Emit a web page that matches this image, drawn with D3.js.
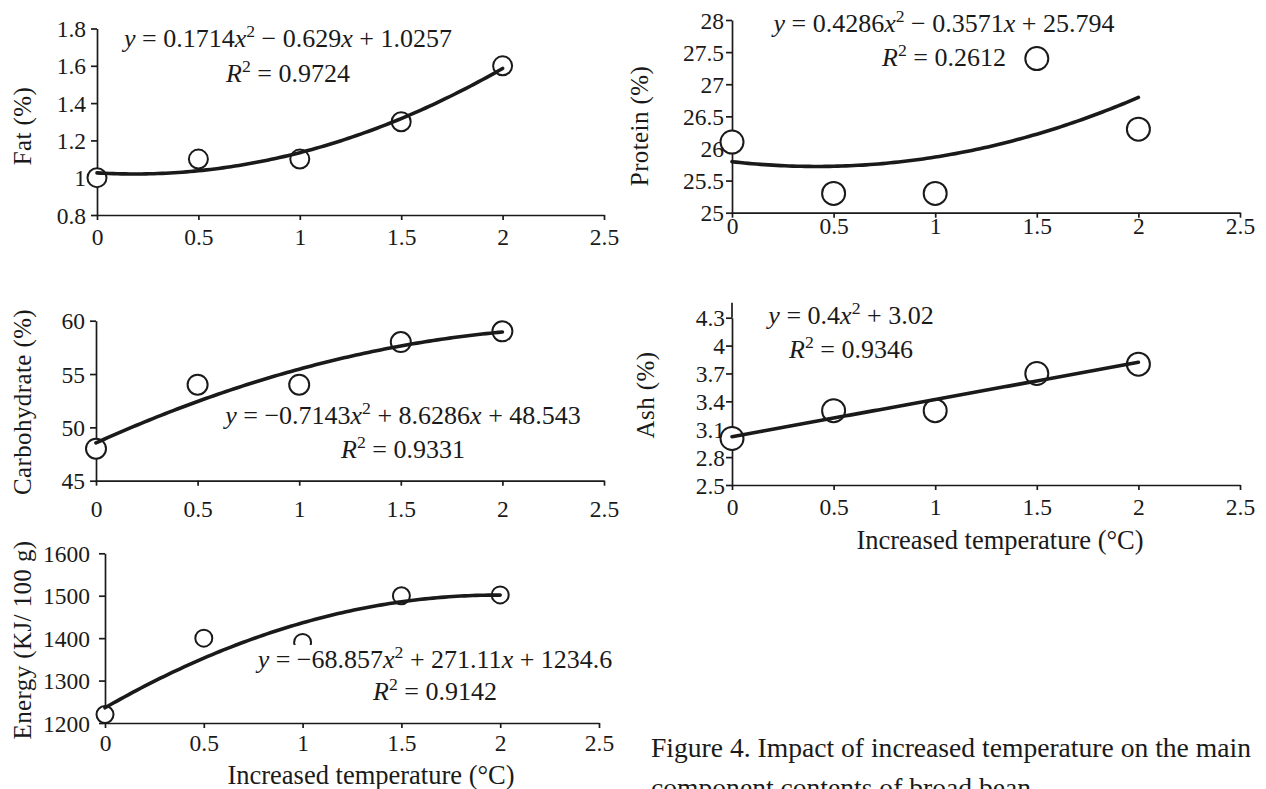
<!DOCTYPE html>
<html>
<head>
<meta charset="utf-8">
<script src="https://cdn.jsdelivr.net/npm/d3@7"></script>
<style>
  html, body { margin: 0; padding: 0; background: #fff; }
  svg text { font-family: "Liberation Serif", "Times New Roman", serif; fill: #1a1a1a; }
</style>
</head>
<body>
<svg id="chart" width="1266" height="789"></svg>
<script>
// ---------------- DATA ----------------
const temperatures = [0, 0.5, 1, 1.5, 2];
const xTickValues = [0, 0.5, 1, 1.5, 2, 2.5];

const fatValues = [1.0, 1.1, 1.1, 1.3, 1.6];
const proteinValues = [26.1, 25.3, 25.3, 27.4, 26.3];
const carbohydrateValues = [48, 54, 54, 58, 59];
const ashValues = [3.0, 3.3, 3.3, 3.7, 3.8];
const energyValues = [1220, 1400, 1390, 1500, 1502];

const fatTicks = [0.8, 1, 1.2, 1.4, 1.6, 1.8];
const proteinTicks = [25, 25.5, 26, 26.5, 27, 27.5, 28];
const carbohydrateTicks = [45, 50, 55, 60];
const ashTicks = [2.5, 2.8, 3.1, 3.4, 3.7, 4, 4.3];
const energyTicks = [1200, 1300, 1400, 1500, 1600];

const fatEquation = ["y = 0.1714x² − 0.629x + 1.0257", "R² = 0.9724"];
const proteinEquation = ["y = 0.4286x² − 0.3571x + 25.794", "R² = 0.2612"];
const carbohydrateEquation = ["y = −0.7143x² + 8.6286x + 48.543", "R² = 0.9331"];
const ashEquation = ["y = 0.4x² + 3.02", "R² = 0.9346"];
const energyEquation = ["y = −68.857x² + 271.11x + 1234.6", "R² = 0.9142"];

const yTitles = ["Fat (%)", "Protein (%)", "Carbohydrate (%)", "Ash (%)", "Energy (KJ/ 100 g)"];
const xTitle = "Increased temperature (°C)";
const captionLines = ["Figure 4. Impact of increased temperature on the main",
                      "component contents of broad bean"];

// ---------------- HELPERS ----------------
// least-squares polynomial trendline (as a spreadsheet trendline does)
function polyfit(xs, ys, deg) {
  const n = deg + 1;
  const A = Array.from({length: n}, () => new Array(n + 1).fill(0));
  for (let r = 0; r < n; r++) {
    for (let c = 0; c < n; c++) A[r][c] = d3.sum(xs, x => Math.pow(x, r + c));
    A[r][n] = d3.sum(xs, (x, i) => Math.pow(x, r) * ys[i]);
  }
  for (let i = 0; i < n; i++) {
    let p = i;
    for (let k = i + 1; k < n; k++) if (Math.abs(A[k][i]) > Math.abs(A[p][i])) p = k;
    [A[i], A[p]] = [A[p], A[i]];
    for (let k = 0; k < n; k++) {
      if (k === i) continue;
      const f = A[k][i] / A[i][i];
      for (let j = i; j <= n; j++) A[k][j] -= f * A[i][j];
    }
  }
  const coef = A.map((row, i) => row[n] / row[i]);
  return x => coef.reduce((s, c, i) => s + c * Math.pow(x, i), 0);
}

function richText(sel, str) {
  // italic for variables, superscript for ²
  const tokens = str.match(/[xyR]|²|[^xyR²]+/g);
  tokens.forEach(t => {
    if (t === "²") {
      sel.append("tspan").attr("baseline-shift", "super").attr("font-size", "68%").text("2");
    } else if (t === "x" || t === "y" || t === "R") {
      sel.append("tspan").attr("font-style", "italic").text(t);
    } else {
      sel.append("tspan").text(t.replace(/ /g, "\u00a0"));
    }
  });
}

const svg = d3.select("#chart");
const ink = "#1a1a1a";

// ---------------- PANEL LAYOUT ----------------
const panels = [
  { values: fatValues, ticks: fatTicks, eq: fatEquation, title: yTitles[0], deg: 2,
    x0: 97, x1: 604, yb: 215, yt: 28.5, r: 9.5,
    xLab: 30, yLab: 11, titleX: 22, titleY: 126,
    eqX: 288, eqY: [47, 82] },
  { values: proteinValues, ticks: proteinTicks, eq: proteinEquation, title: yTitles[1], deg: 2,
    x0: 732, x1: 1240, yb: 212.7, yt: 20, r: 11.5,
    xLab: 21, yLab: 8, titleX: 639, titleY: 126,
    eqX: 944, eqY: [31.5, 66] },
  { values: carbohydrateValues, ticks: carbohydrateTicks, eq: carbohydrateEquation, title: yTitles[2], deg: 2,
    x0: 96, x1: 604, yb: 480.7, yt: 320.7, r: 10,
    xLab: 36, yLab: 11, titleX: 22, titleY: 402,
    eqX: 403, eqY: [423.5, 458] },
  { values: ashValues, ticks: ashTicks, eq: ashEquation, title: yTitles[3], deg: 1,
    x0: 732, x1: 1240, yb: 485, yt: 317.7, r: 11.5, axisExtra: 15,
    xLab: 30, yLab: 7, titleX: 645, titleY: 395,
    eqX: 851, eqY: [324, 358], xTitleX: 1000, xTitleY: 549 },
  { values: energyValues, ticks: energyTicks, eq: energyEquation, title: yTitles[4], deg: 2,
    x0: 105, x1: 599, yb: 723, yt: 553.3, r: 8.5,
    xLab: 28, yLab: 15, titleX: 22, titleY: 640,
    eqX: 435, eqY: [668, 700], eqBg: true, xTitleX: 371, xTitleY: 784 }
];

panels.forEach(p => {
  const g = svg.append("g");
  const x = d3.scaleLinear().domain([0, 2.5]).range([p.x0, p.x1]);
  const y = d3.scaleLinear().domain(d3.extent(p.ticks)).range([p.yb, p.yt]);

  // x axis
  const xa = g.append("g").attr("transform", `translate(0,${p.yb})`)
    .call(d3.axisBottom(x).tickValues(xTickValues).tickSize(5).tickSizeOuter(0).tickFormat(d => String(d)));
  xa.selectAll(".tick text").attr("y", p.xLab).attr("dy", 0).attr("font-size", 23.5);

  // y axis
  const ya = g.append("g").attr("transform", `translate(${p.x0},0)`)
    .call(d3.axisLeft(y).tickValues(p.ticks).tickSize(6).tickSizeOuter(0).tickFormat(d => String(d)));
  ya.selectAll(".tick text").attr("x", -p.yLab).attr("dy", "0.34em").attr("font-size", 23.5);
  if (p.axisExtra) {
    g.append("line").attr("x1", p.x0).attr("x2", p.x0)
      .attr("y1", p.yt).attr("y2", p.yt - p.axisExtra);
  }
  g.selectAll(".domain, .tick line, line").attr("stroke", ink).attr("stroke-width", 1.7);
  g.selectAll(".tick text").attr("fill", ink)
    .style("font-family", '"Liberation Serif", "Times New Roman", serif');

  // y title
  g.append("text")
    .attr("transform", `translate(${p.titleX},${p.titleY}) rotate(-90)`)
    .attr("text-anchor", "middle").attr("dy", "0.35em")
    .attr("font-size", 25).attr("letter-spacing", "0.4px").text(p.title);

  // data points
  g.selectAll("circle.pt").data(temperatures).join("circle")
    .attr("class", "pt")
    .attr("cx", d => x(d)).attr("cy", (d, i) => y(p.values[i]))
    .attr("r", p.r).attr("fill", "#fff").attr("stroke", ink).attr("stroke-width", 2);

  // trendline
  const f = polyfit(temperatures, p.values, p.deg);
  const xs = d3.range(0, 2.0001, 0.02);
  g.append("path").datum(xs)
    .attr("d", d3.line().x(d => x(d)).y(d => y(f(d))))
    .attr("fill", "none").attr("stroke", ink).attr("stroke-width", 3.6)
    .attr("stroke-linecap", "round").attr("stroke-linejoin", "round");

  // equation labels
  const eqG = g.append("g");
  const texts = p.eq.map((s, i) => {
    const t = eqG.append("text").attr("x", p.eqX).attr("y", p.eqY[i])
      .attr("text-anchor", "middle").attr("font-size", 26);
    richText(t, s);
    return t;
  });
  if (p.eqBg) {
    const bb = texts[0].node().getBBox();
    eqG.insert("rect", "text").attr("x", bb.x - 2).attr("y", bb.y + 3)
      .attr("width", bb.width + 4).attr("height", bb.height + 34).attr("fill", "#fff");
  }

  if (p.xTitleX) {
    g.append("text").attr("x", p.xTitleX).attr("y", p.xTitleY)
      .attr("text-anchor", "middle").attr("font-size", 26.5).text(xTitle);
  }
});

// caption
svg.append("g").selectAll("text").data(captionLines).join("text")
  .attr("x", 651).attr("y", (d, i) => 757 + i * 40)
  .attr("font-size", 27.6).text(d => d);
</script>
</body>
</html>
